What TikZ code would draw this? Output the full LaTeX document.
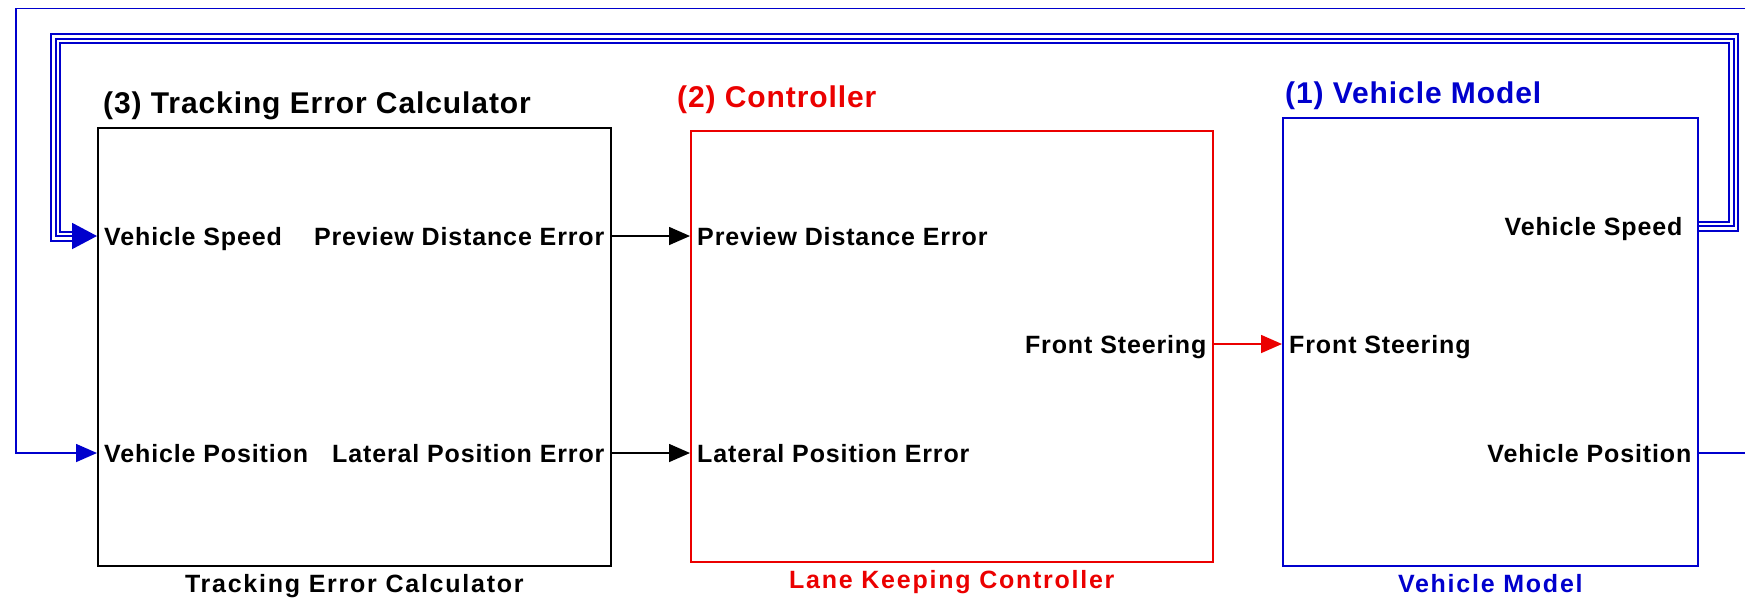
\documentclass[tikz,border=0pt]{standalone}
\usepackage{fontspec}
\setmainfont{Liberation Sans}
\newfontfamily\ttlfont{Liberation Sans}[LetterSpace=3]
\newfontfamily\portfont{Liberation Sans}[LetterSpace=3.5]
\newfontfamily\namefont{Liberation Sans}[LetterSpace=7]
\usetikzlibrary{arrows.meta}

\definecolor{vmblue}{RGB}{0,0,205}
\definecolor{lkcred}{RGB}{235,0,0}

\tikzset{
  blk/.style={draw, line width=1.6pt, inner sep=0pt, anchor=north west},
  ttl/.style={font={\ttlfont\bfseries\fontsize{30}{34}\selectfont}, inner sep=0pt, anchor=base west},
  port/.style={font={\portfont\bfseries\fontsize{25}{28}\selectfont}, inner xsep=7pt, inner ysep=0pt, text height=18pt, text depth=0pt},
  blkname/.style={font={\namefont\bfseries\fontsize{25}{28}\selectfont}, inner sep=0pt, anchor=base},
  sig/.style={line width=1.6pt, -{Triangle[length=21pt,width=18pt]}},
  bus/.style={vmblue, line width=2pt, -{Triangle[length=25pt,width=26pt]},
    preaction={draw=vmblue, line width=11pt, shorten >=25pt, -},
    preaction={draw=white, line width=7pt, shorten >=25pt, -}}
}

\begin{document}
\begin{tikzpicture}[x=1pt, y=-1pt]
\useasboundingbox (0,0) rectangle (1745,598);
\clip (0,0) rectangle (1745,598);

% (3) tracking error calculator
\node[blk, minimum width=513pt, minimum height=438pt] (tec) at (97,127) {};
\node[ttl] (tecTitle) at (103,113) {(3) Tracking Error Calculator};
\node[blkname] (tecName) at ([yshift=-26pt]tec.south) {Tracking Error Calculator};
\node[port, anchor=west] (tecSpd) at (tec.west |- 0,236) {Vehicle Speed};
\node[port, anchor=west] (tecPos) at (tec.west |- 0,453) {Vehicle Position};
\node[port, anchor=east] (tecPde) at (tec.east |- 0,236) {Preview Distance Error};
\node[port, anchor=east] (tecLpe) at (tec.east |- 0,453) {Lateral Position Error};

% (2) lane keeping controller
\node[blk, draw=lkcred, minimum width=522pt, minimum height=431pt] (lkc) at (690,130) {};
\node[ttl, text=lkcred] (lkcTitle) at (677,107) {(2) Controller};
\node[blkname, text=lkcred] (lkcName) at ([yshift=-26pt]lkc.south) {Lane Keeping Controller};
\node[port, anchor=west] (lkcPde) at (lkc.west |- 0,236) {Preview Distance Error};
\node[port, anchor=west] (lkcLpe) at (lkc.west |- 0,453) {Lateral Position Error};
\node[port, anchor=east] (lkcFs) at (lkc.east |- 0,344) {Front Steering};

% (1) vehicle model
\node[blk, draw=vmblue, minimum width=415pt, minimum height=448pt] (vm) at (1282,117) {};
\node[ttl, text=vmblue] (vmTitle) at (1285,103) {(1) Vehicle Model};
\node[blkname, text=vmblue] (vmName) at ([yshift=-26pt]vm.south) {Vehicle Model};
\node[port, anchor=west] (vmFs) at (vm.west |- 0,344) {Front Steering};
\node[port, anchor=east, inner xsep=16pt] (vmSpd) at (vm.east |- 0,226) {Vehicle Speed};
\node[port, anchor=east] (vmPos) at (vm.east |- 0,453) {Vehicle Position};

% signals
\draw[sig] (tecPde.east) -- (lkcPde.west);
\draw[sig] (tecLpe.east) -- (lkcLpe.west);
\draw[sig, lkcred] (lkcFs.east) -- (vmFs.west);

% feedback
\draw[sig, vmblue] (vmPos.east) -- (1770,453) -- (1770,8.5) -| (16,453) -- (tecPos.west);
\draw[bus] (vmSpd.east) -| (1733.5,38.5) -| (55.5,236) -- (tecSpd.west);
\end{tikzpicture}
\end{document}
